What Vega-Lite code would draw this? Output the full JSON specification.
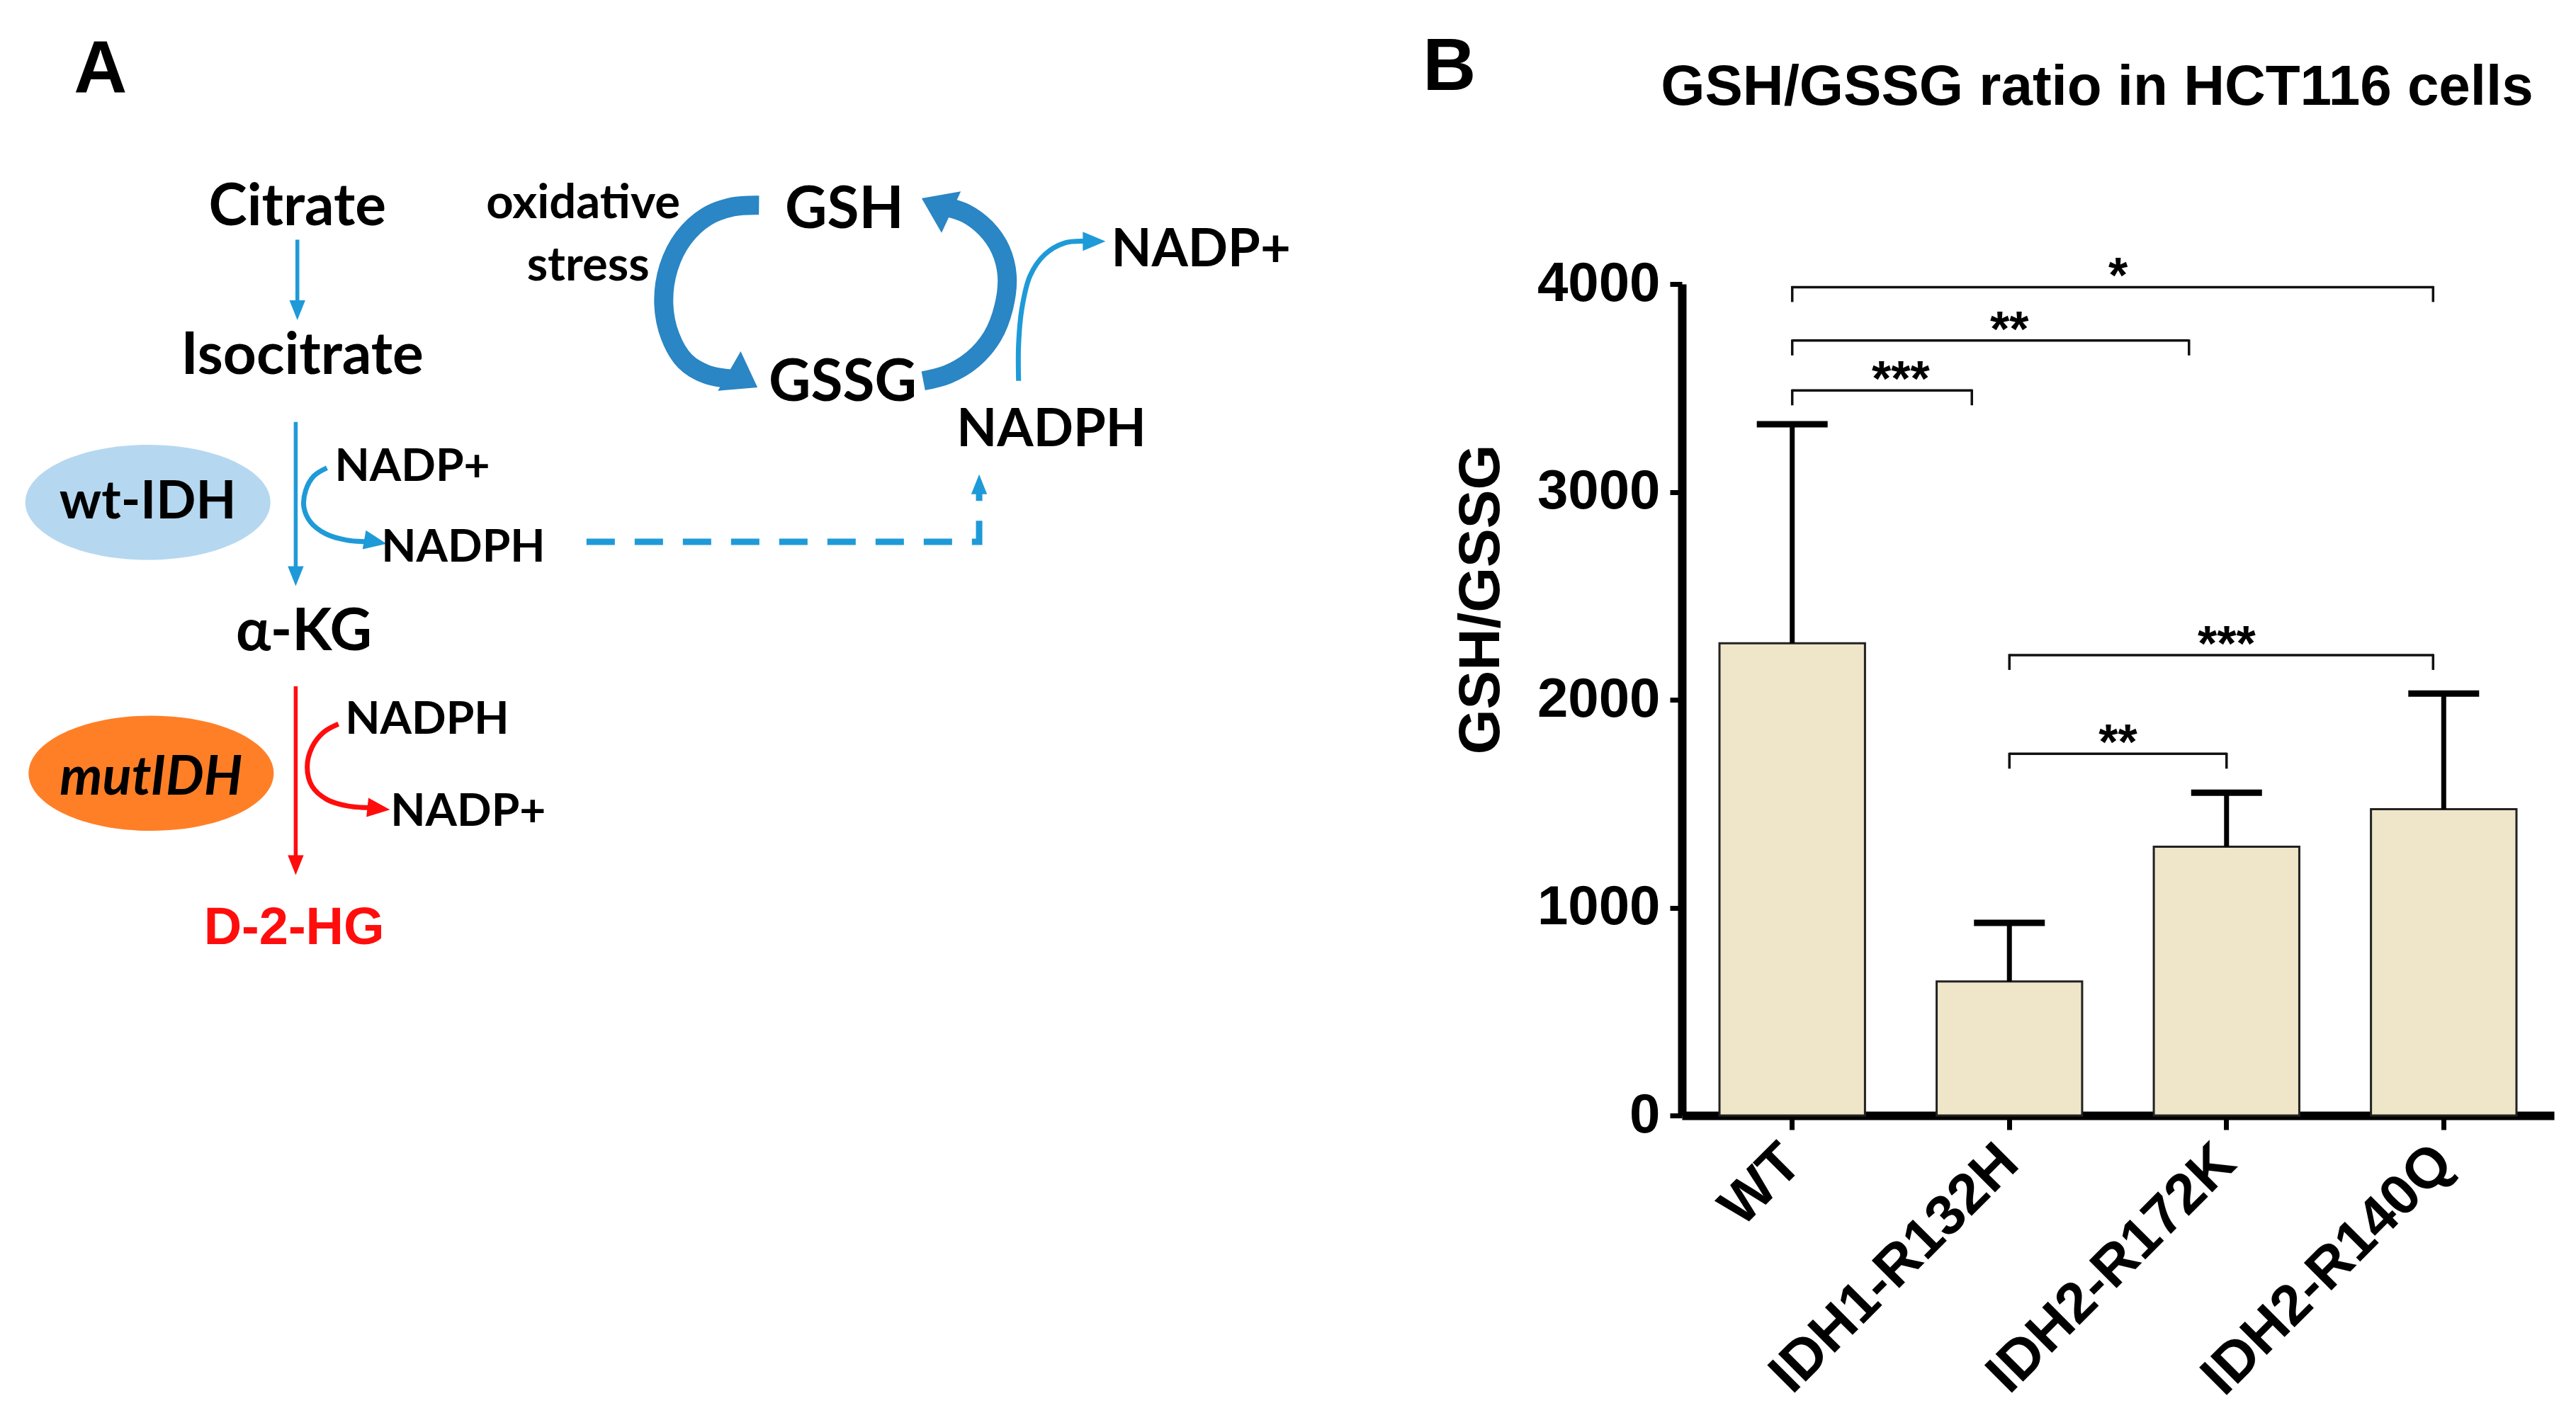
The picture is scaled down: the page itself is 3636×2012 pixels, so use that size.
{
  "$schema": "https://vega.github.io/schema/vega-lite/v6.json",
  "width": 3636,
  "height": 2012,
  "autosize": {"type": "none"},
  "padding": 0,
  "background": "white",
  "config": {"view": {"stroke": null}},
  "datasets": {
    "labels": [
      {"text": "A", "x": 45, "y": 56, "role": "panel"},
      {"text": "B", "x": 866, "y": 55, "role": "panel"},
      {"text": "GSH/GSSG ratio in HCT116 cells", "x": 1276.5, "y": 64, "role": "title"},
      {"text": "Citrate", "x": 181, "y": 137, "role": "metabolite"},
      {"text": "Isocitrate", "x": 184, "y": 228, "role": "metabolite"},
      {"text": "α-KG", "x": 185, "y": 396, "role": "metabolite"},
      {"text": "GSH", "x": 514, "y": 139, "role": "metabolite"},
      {"text": "GSSG", "x": 513, "y": 244, "role": "metabolite"},
      {"text": "oxidative", "x": 355, "y": 133, "role": "stress"},
      {"text": "stress", "x": 358, "y": 171, "role": "stress"},
      {"text": "NADP+", "x": 731, "y": 162, "role": "cofactorLarge"},
      {"text": "NADPH", "x": 640, "y": 272, "role": "cofactorLarge"},
      {"text": "wt-IDH", "x": 90, "y": 316, "role": "enzyme"},
      {"text": "mutIDH", "x": 92, "y": 484, "role": "enzymeMut"},
      {"text": "NADP+", "x": 251, "y": 293, "role": "cofactor"},
      {"text": "NADPH", "x": 282, "y": 342, "role": "cofactor"},
      {"text": "NADPH", "x": 260, "y": 447, "role": "cofactor"},
      {"text": "NADP+", "x": 285, "y": 503, "role": "cofactor"},
      {"text": "D-2-HG", "x": 179, "y": 575, "role": "product"}
    ],
    "ellipses": [
      {"x": 90, "y": 306, "enzyme": "wt"},
      {"x": 92, "y": 471, "enzyme": "mut"}
    ],
    "paths": [
      {"pid": "c1", "kind": "blueThin", "k": 0, "x": 181, "y": 146},
      {"pid": "c1", "kind": "blueThin", "k": 1, "x": 181, "y": 188},
      {"pid": "c2", "kind": "blueThin", "k": 0, "x": 180, "y": 257},
      {"pid": "c2", "kind": "blueThin", "k": 1, "x": 180, "y": 350},
      {"pid": "w1", "kind": "blueCurve", "k": 0, "x": 199, "y": 285},
      {"pid": "w1", "kind": "blueCurve", "k": 1, "x": 191, "y": 290},
      {"pid": "w1", "kind": "blueCurve", "k": 2, "x": 186, "y": 299},
      {"pid": "w1", "kind": "blueCurve", "k": 3, "x": 185, "y": 309},
      {"pid": "w1", "kind": "blueCurve", "k": 4, "x": 189, "y": 318},
      {"pid": "w1", "kind": "blueCurve", "k": 5, "x": 198, "y": 325},
      {"pid": "w1", "kind": "blueCurve", "k": 6, "x": 211, "y": 329},
      {"pid": "w1", "kind": "blueCurve", "k": 7, "x": 225, "y": 330},
      {"pid": "n1", "kind": "blueCurve", "k": 0, "x": 620, "y": 232},
      {"pid": "n1", "kind": "blueCurve", "k": 1, "x": 620, "y": 210},
      {"pid": "n1", "kind": "blueCurve", "k": 2, "x": 622, "y": 188},
      {"pid": "n1", "kind": "blueCurve", "k": 3, "x": 627, "y": 168},
      {"pid": "n1", "kind": "blueCurve", "k": 4, "x": 636, "y": 155},
      {"pid": "n1", "kind": "blueCurve", "k": 5, "x": 648, "y": 148},
      {"pid": "n1", "kind": "blueCurve", "k": 6, "x": 662, "y": 147},
      {"pid": "d1", "kind": "dash", "k": 0, "x": 357, "y": 330},
      {"pid": "d1", "kind": "dash", "k": 1, "x": 596, "y": 330},
      {"pid": "d1", "kind": "dash", "k": 2, "x": 596, "y": 300},
      {"pid": "r1", "kind": "redThin", "k": 0, "x": 180, "y": 418},
      {"pid": "r1", "kind": "redThin", "k": 1, "x": 180, "y": 526},
      {"pid": "m1", "kind": "redCurve", "k": 0, "x": 206, "y": 441},
      {"pid": "m1", "kind": "redCurve", "k": 1, "x": 197, "y": 446},
      {"pid": "m1", "kind": "redCurve", "k": 2, "x": 190, "y": 455},
      {"pid": "m1", "kind": "redCurve", "k": 3, "x": 187, "y": 467},
      {"pid": "m1", "kind": "redCurve", "k": 4, "x": 190, "y": 479},
      {"pid": "m1", "kind": "redCurve", "k": 5, "x": 199, "y": 487},
      {"pid": "m1", "kind": "redCurve", "k": 6, "x": 212, "y": 491},
      {"pid": "m1", "kind": "redCurve", "k": 7, "x": 226, "y": 492},
      {"pid": "g1", "kind": "cycle", "k": 0, "x": 462, "y": 125},
      {"pid": "g1", "kind": "cycle", "k": 1, "x": 446, "y": 126},
      {"pid": "g1", "kind": "cycle", "k": 2, "x": 430, "y": 132},
      {"pid": "g1", "kind": "cycle", "k": 3, "x": 416, "y": 145},
      {"pid": "g1", "kind": "cycle", "k": 4, "x": 407, "y": 163},
      {"pid": "g1", "kind": "cycle", "k": 5, "x": 404, "y": 185},
      {"pid": "g1", "kind": "cycle", "k": 6, "x": 408, "y": 205},
      {"pid": "g1", "kind": "cycle", "k": 7, "x": 417, "y": 220},
      {"pid": "g1", "kind": "cycle", "k": 8, "x": 430, "y": 228},
      {"pid": "g1", "kind": "cycle", "k": 9, "x": 446, "y": 231},
      {"pid": "g2", "kind": "cycle", "k": 0, "x": 562, "y": 232},
      {"pid": "g2", "kind": "cycle", "k": 1, "x": 577, "y": 228},
      {"pid": "g2", "kind": "cycle", "k": 2, "x": 592, "y": 219},
      {"pid": "g2", "kind": "cycle", "k": 3, "x": 604, "y": 205},
      {"pid": "g2", "kind": "cycle", "k": 4, "x": 611, "y": 187},
      {"pid": "g2", "kind": "cycle", "k": 5, "x": 613, "y": 168},
      {"pid": "g2", "kind": "cycle", "k": 6, "x": 609, "y": 152},
      {"pid": "g2", "kind": "cycle", "k": 7, "x": 600, "y": 139},
      {"pid": "g2", "kind": "cycle", "k": 8, "x": 588, "y": 130},
      {"pid": "g2", "kind": "cycle", "k": 9, "x": 576, "y": 126}
    ],
    "heads": [
      {"x": 181, "y": 189, "dir": 90, "kind": "blueSmall"},
      {"x": 180, "y": 351, "dir": 90, "kind": "blueSmall"},
      {"x": 596, "y": 295, "dir": -90, "kind": "blueSmall"},
      {"x": 228.5, "y": 330, "dir": 10, "kind": "blueMid"},
      {"x": 666, "y": 147, "dir": 0, "kind": "blueMid"},
      {"x": 180, "y": 527, "dir": 90, "kind": "redSmall"},
      {"x": 230.5, "y": 492.5, "dir": 6, "kind": "redMid"},
      {"x": 452.5, "y": 231, "dir": 30, "kind": "big"},
      {"x": 570, "y": 125, "dir": 205, "kind": "big"}
    ],
    "bars": [
      {"group": "WT", "mean": 2272, "upper": 3325},
      {"group": "IDH1-R132H", "mean": 645, "upper": 927},
      {"group": "IDH2-R172K", "mean": 1293, "upper": 1553},
      {"group": "IDH2-R140Q", "mean": 1474, "upper": 2030}
    ],
    "brackets": [
      {"id": "t1", "i1": 0, "i2": 3, "yline": 3985, "label": "*"},
      {"id": "t2", "i1": 0, "i2": 2, "yline": 3728, "label": "**"},
      {"id": "t3", "i1": 0, "i2": 1, "yline": 3488, "label": "***"},
      {"id": "t4", "i1": 1, "i2": 3, "yline": 2215, "label": "***"},
      {"id": "t5", "i1": 1, "i2": 2, "yline": 1740, "label": "**"}
    ]
  },
  "resolve": {"scale": {"x": "independent", "y": "independent"}, "axis": {"x": "independent", "y": "independent"}},
  "layer": [
    {
      "encoding": {
        "x": {"field": "x", "type": "quantitative", "axis": null, "scale": {"domain": [0, 1568], "range": [0, 3636], "nice": false, "zero": false}},
        "y": {"field": "y", "type": "quantitative", "axis": null, "scale": {"domain": [0, 868], "range": [0, 2012], "nice": false, "zero": false}}
      },
      "layer": [
        {
          "data": {"name": "ellipses"},
          "mark": {"type": "point", "filled": true, "opacity": 1, "strokeWidth": 0, "size": 119716, "shape": "M-1,0A1,0.47,0,1,0,1,0A1,0.47,0,1,0,-1,0Z"},
          "encoding": {"color": {"field": "enzyme", "type": "nominal", "legend": null, "scale": {"domain": ["wt", "mut"], "range": ["#b5d8f0", "#ff7f27"]}}}
        },
        {
          "data": {"name": "paths"},
          "transform": [{"filter": "datum.kind == 'blueThin'"}],
          "mark": {"type": "line", "color": "#1f9ad8", "strokeWidth": 5.5, "strokeCap": "butt"},
          "encoding": {"detail": {"field": "pid"}, "order": {"field": "k", "type": "quantitative"}}
        },
        {
          "data": {"name": "paths"},
          "transform": [{"filter": "datum.kind == 'blueCurve'"}],
          "mark": {"type": "line", "color": "#1f9ad8", "strokeWidth": 7, "strokeCap": "butt", "interpolate": "catmull-rom"},
          "encoding": {"detail": {"field": "pid"}, "order": {"field": "k", "type": "quantitative"}}
        },
        {
          "data": {"name": "paths"},
          "transform": [{"filter": "datum.kind == 'dash'"}],
          "mark": {"type": "line", "color": "#1f9ad8", "strokeWidth": 9, "strokeCap": "butt", "strokeDash": [40, 28]},
          "encoding": {"detail": {"field": "pid"}, "order": {"field": "k", "type": "quantitative"}}
        },
        {
          "data": {"name": "paths"},
          "transform": [{"filter": "datum.kind == 'redThin'"}],
          "mark": {"type": "line", "color": "#ff0d0d", "strokeWidth": 5.5, "strokeCap": "butt"},
          "encoding": {"detail": {"field": "pid"}, "order": {"field": "k", "type": "quantitative"}}
        },
        {
          "data": {"name": "paths"},
          "transform": [{"filter": "datum.kind == 'redCurve'"}],
          "mark": {"type": "line", "color": "#ff0d0d", "strokeWidth": 7, "strokeCap": "butt", "interpolate": "catmull-rom"},
          "encoding": {"detail": {"field": "pid"}, "order": {"field": "k", "type": "quantitative"}}
        },
        {
          "data": {"name": "paths"},
          "transform": [{"filter": "datum.kind == 'cycle'"}],
          "mark": {"type": "line", "color": "#2a86c4", "strokeWidth": 27, "strokeCap": "butt", "interpolate": "catmull-rom"},
          "encoding": {"detail": {"field": "pid"}, "order": {"field": "k", "type": "quantitative"}}
        },
        {
          "data": {"name": "heads"},
          "transform": [{"filter": "datum.kind == 'blueSmall'"}],
          "mark": {"type": "point", "filled": true, "opacity": 1, "color": "#1f9ad8", "size": 784, "shape": "M1,0L-1,-0.8L-1,0.8Z"},
          "encoding": {"angle": {"field": "dir", "type": "quantitative", "scale": null}}
        },
        {
          "data": {"name": "heads"},
          "transform": [{"filter": "datum.kind == 'blueMid'"}],
          "mark": {"type": "point", "filled": true, "opacity": 1, "color": "#1f9ad8", "size": 1024, "shape": "M1,0L-1,-0.85L-1,0.85Z"},
          "encoding": {"angle": {"field": "dir", "type": "quantitative", "scale": null}}
        },
        {
          "data": {"name": "heads"},
          "transform": [{"filter": "datum.kind == 'redSmall'"}],
          "mark": {"type": "point", "filled": true, "opacity": 1, "color": "#ff0d0d", "size": 784, "shape": "M1,0L-1,-0.8L-1,0.8Z"},
          "encoding": {"angle": {"field": "dir", "type": "quantitative", "scale": null}}
        },
        {
          "data": {"name": "heads"},
          "transform": [{"filter": "datum.kind == 'redMid'"}],
          "mark": {"type": "point", "filled": true, "opacity": 1, "color": "#ff0d0d", "size": 1024, "shape": "M1,0L-1,-0.85L-1,0.85Z"},
          "encoding": {"angle": {"field": "dir", "type": "quantitative", "scale": null}}
        },
        {
          "data": {"name": "heads"},
          "transform": [{"filter": "datum.kind == 'big'"}],
          "mark": {"type": "point", "filled": true, "opacity": 1, "color": "#2a86c4", "size": 2116, "shape": "M1,0L-1,-1.4L-1,1.4Z"},
          "encoding": {"angle": {"field": "dir", "type": "quantitative", "scale": null}}
        },
        {
          "data": {"name": "labels"},
          "transform": [{"filter": "datum.role == 'panel'"}],
          "mark": {"type": "text", "align": "left", "baseline": "alphabetic", "font": "Liberation Sans", "fontWeight": "bold", "fontSize": 104, "color": "black"},
          "encoding": {"text": {"field": "text"}}
        },
        {
          "data": {"name": "labels"},
          "transform": [{"filter": "datum.role == 'title'"}],
          "mark": {"type": "text", "align": "center", "baseline": "alphabetic", "font": "Liberation Sans", "fontWeight": "bold", "fontSize": 80, "color": "black"},
          "encoding": {"text": {"field": "text"}}
        },
        {
          "data": {"name": "labels"},
          "transform": [{"filter": "datum.role == 'metabolite'"}],
          "mark": {"type": "text", "align": "center", "baseline": "alphabetic", "font": "Lato", "fontWeight": "bold", "fontSize": 82, "color": "black"},
          "encoding": {"text": {"field": "text"}}
        },
        {
          "data": {"name": "labels"},
          "transform": [{"filter": "datum.role == 'stress'"}],
          "mark": {"type": "text", "align": "center", "baseline": "alphabetic", "font": "Lato", "fontWeight": "bold", "fontSize": 67, "color": "black"},
          "encoding": {"text": {"field": "text"}}
        },
        {
          "data": {"name": "labels"},
          "transform": [{"filter": "datum.role == 'cofactorLarge'"}],
          "mark": {"type": "text", "align": "center", "baseline": "alphabetic", "font": "Lato", "fontWeight": "bold", "fontSize": 74, "color": "black"},
          "encoding": {"text": {"field": "text"}}
        },
        {
          "data": {"name": "labels"},
          "transform": [{"filter": "datum.role == 'cofactor'"}],
          "mark": {"type": "text", "align": "center", "baseline": "alphabetic", "font": "Lato", "fontWeight": "bold", "fontSize": 64, "color": "black"},
          "encoding": {"text": {"field": "text"}}
        },
        {
          "data": {"name": "labels"},
          "transform": [{"filter": "datum.role == 'enzyme'"}],
          "mark": {"type": "text", "align": "center", "baseline": "alphabetic", "font": "Lato", "fontWeight": "bold", "fontSize": 74, "color": "black"},
          "encoding": {"text": {"field": "text"}}
        },
        {
          "data": {"name": "labels"},
          "transform": [{"filter": "datum.role == 'enzymeMut'"}],
          "mark": {"type": "text", "align": "center", "baseline": "alphabetic", "font": "Lato", "fontWeight": "bold", "fontStyle": "italic", "fontSize": 76, "color": "black"},
          "encoding": {"text": {"field": "text"}}
        },
        {
          "data": {"name": "labels"},
          "transform": [{"filter": "datum.role == 'product'"}],
          "mark": {"type": "text", "align": "center", "baseline": "alphabetic", "font": "Liberation Sans", "fontWeight": "bold", "fontSize": 74, "color": "#ff0d0d"},
          "encoding": {"text": {"field": "text"}}
        }
      ]
    },
    {
      "data": {"name": "bars"},
      "encoding": {
        "x": {
          "field": "group", "type": "nominal", "sort": null, "title": null,
          "scale": {"domain": ["WT", "IDH1-R132H", "IDH2-R172K", "IDH2-R140Q"], "range": [2374, 3605], "paddingInner": 0.33, "paddingOuter": 0.173},
          "axis": {"orient": "bottom", "offset": -437, "title": null, "labelAngle": -45, "labelAlign": "right", "labelBaseline": "middle", "labelOverlap": false, "labelLimit": 0, "labelFont": "Liberation Sans", "labelFontWeight": "bold", "labelFontSize": 80, "labelColor": "black", "labelPadding": 34, "tickSize": 20, "tickWidth": 7, "tickColor": "black", "domainColor": "black", "domainWidth": 12, "grid": false}
        },
        "y": {
          "field": "mean", "type": "quantitative", "title": "GSH/GSSG",
          "scale": {"domain": [0, 4000], "range": [1575, 401], "nice": false, "zero": true},
          "axis": {"orient": "left", "offset": -2374, "values": [0, 1000, 2000, 3000, 4000], "format": "d", "grid": false, "labelFont": "Liberation Sans", "labelFontWeight": "bold", "labelFontSize": 78, "labelColor": "black", "labelPadding": 14, "tickSize": 17, "tickWidth": 7, "tickColor": "black", "domainColor": "black", "domainWidth": 12, "title": "GSH/GSSG", "titleFont": "Liberation Sans", "titleFontWeight": "bold", "titleFontSize": 82, "titleColor": "black", "titleAngle": -90, "titleAlign": "center", "titleBaseline": "middle", "titleX": -284, "titleY": 846}
        }
      },
      "layer": [
        {"mark": {"type": "bar", "fill": "#efe6c9", "stroke": "#222222", "strokeWidth": 3}},
        {"mark": {"type": "rule", "color": "black", "strokeWidth": 7}, "encoding": {"y2": {"field": "upper"}}},
        {"mark": {"type": "tick", "color": "black", "size": 100, "thickness": 9, "opacity": 1}, "encoding": {"y": {"field": "upper", "type": "quantitative", "title": "GSH/GSSG"}}}
      ]
    },
    {
      "data": {"name": "brackets"},
      "encoding": {
        "x": {"field": "i1", "type": "quantitative", "axis": null, "scale": {"domain": [-0.508, 3.508], "range": [2374, 3605], "nice": false, "zero": false}},
        "y": {"field": "yline", "type": "quantitative", "axis": null, "scale": {"domain": [0, 4000], "range": [1575, 401], "nice": false, "zero": false}}
      },
      "layer": [
        {
          "transform": [{"filter": "datum.id == 't1' || datum.id == 't4'"}],
          "mark": {"type": "rule", "color": "#111111", "strokeWidth": 3.5, "x2Offset": -15},
          "encoding": {"x2": {"field": "i2"}}
        },
        {
          "transform": [{"filter": "datum.id == 't2' || datum.id == 't3'"}],
          "mark": {"type": "rule", "color": "#111111", "strokeWidth": 3.5, "x2Offset": -53},
          "encoding": {"x2": {"field": "i2"}}
        },
        {
          "transform": [{"filter": "datum.id == 't5'"}],
          "mark": {"type": "rule", "color": "#111111", "strokeWidth": 3.5},
          "encoding": {"x2": {"field": "i2"}}
        },
        {
          "mark": {"type": "rule", "color": "#111111", "strokeWidth": 3.5, "y2Offset": 21, "yOffset": -1.5},
          "encoding": {"y2": {"field": "yline"}}
        },
        {
          "transform": [{"filter": "datum.id == 't1' || datum.id == 't4'"}],
          "mark": {"type": "rule", "color": "#111111", "strokeWidth": 3.5, "xOffset": -15, "y2Offset": 21, "yOffset": -1.5},
          "encoding": {"x": {"field": "i2", "type": "quantitative"}, "y2": {"field": "yline"}}
        },
        {
          "transform": [{"filter": "datum.id == 't2' || datum.id == 't3'"}],
          "mark": {"type": "rule", "color": "#111111", "strokeWidth": 3.5, "xOffset": -53, "y2Offset": 21, "yOffset": -1.5},
          "encoding": {"x": {"field": "i2", "type": "quantitative"}, "y2": {"field": "yline"}}
        },
        {
          "transform": [{"filter": "datum.id == 't5'"}],
          "mark": {"type": "rule", "color": "#111111", "strokeWidth": 3.5, "y2Offset": 21, "yOffset": -1.5},
          "encoding": {"x": {"field": "i2", "type": "quantitative"}, "y2": {"field": "yline"}}
        },
        {
          "transform": [{"fold": ["i1", "i2"], "as": ["end", "pos"]}],
          "mark": {"type": "text", "align": "center", "baseline": "alphabetic", "dy": 8, "font": "Liberation Sans", "fontWeight": "bold", "fontSize": 70, "color": "black"},
          "encoding": {
            "x": {"field": "pos", "type": "quantitative", "aggregate": "mean"},
            "text": {"field": "label"},
            "detail": {"field": "id"}
          }
        }
      ]
    }
  ]
}
